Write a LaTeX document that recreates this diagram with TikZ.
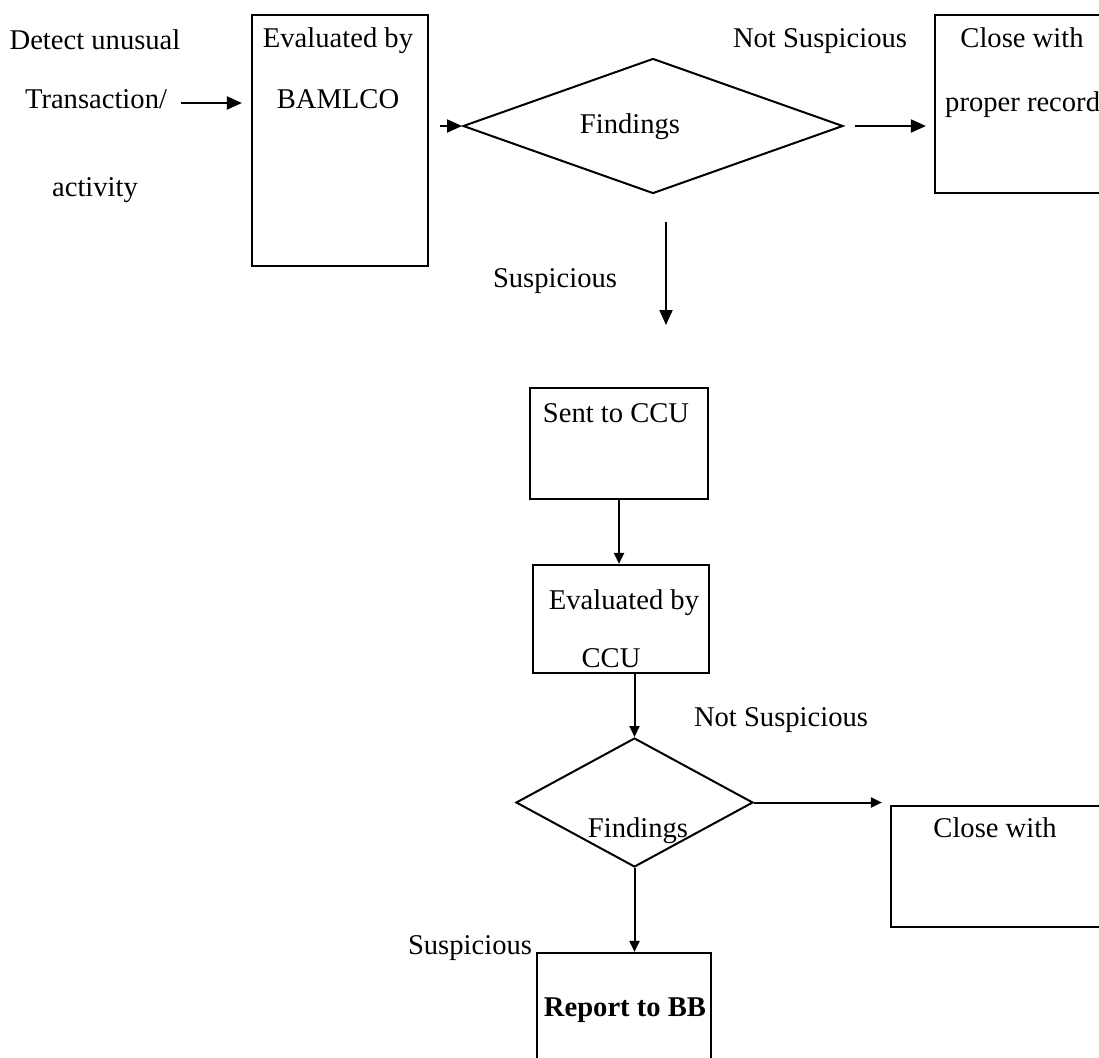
\documentclass[tikz,border=0pt]{standalone}
\usepackage{fontspec}
\setmainfont{Liberation Serif}
\usepackage{tikz}
\usetikzlibrary{shapes.geometric,arrows.meta}

\begin{document}
\begin{tikzpicture}[x=1pt,y=-1pt,
  every node/.style={font=\fontsize{28.6}{34}\selectfont},
  txt/.style={inner sep=0pt,text height=0.7em,text depth=0.25em},
  box/.style={draw,line width=2.2pt,inner sep=0pt},
  decide/.style={diamond,draw,line width=2pt,inner sep=0pt},
  arr/.style={line width=2pt,-{Triangle[length=15pt,width=13pt]}},
  arrs/.style={line width=2pt,-{Triangle[length=11pt,width=10pt]}}]
\clip (0,0) rectangle (1099,1057);
\node [box,minimum width=176pt,minimum height=251pt] (bamlco) at (340,140.5) {};
\node [decide,minimum width=380pt,minimum height=135pt] (findA) at (653,126) {};
\node [box,minimum width=185pt,minimum height=178pt] (closeA) at (1027.5,104) {};
\node [box,minimum width=178pt,minimum height=111pt] (sent) at (619,443.5) {};
\node [box,minimum width=176pt,minimum height=108pt] (evalB) at (621,619) {};
\node [decide,minimum width=237pt,minimum height=129pt] (findB) at (634.5,802.5) {};
\node [box,minimum width=229pt,minimum height=121pt] (closeB) at (1005.5,866.5) {};
\node [box,minimum width=174pt,minimum height=127pt] (report) at (624,1016.5) {};

\node [txt] (detect) at (95,47) {Detect unusual};
\node [txt] (trans) at (96,106) {Transaction/};
\node [txt] (activ) at (95,194) {activity};
\node [txt] (evalA1) at (338,45) {Evaluated by};
\node [txt] (evalA2) at (338,106) {BAMLCO};
\node [txt] (findAt) at (630,131) {Findings};
\node [txt] (notA) at (820,45) {Not Suspicious};
\node [txt] (closeA1) at (1022,45) {Close with};
\node [txt,anchor=west] (closeA2) at (945,109) {proper record};
\node [txt] (suspA) at (555,285) {Suspicious};
\node [txt] (sentt) at (616,420) {Sent to CCU};
\node [txt] (evalB1) at (624,607) {Evaluated by};
\node [txt] (evalB2) at (611,665) {CCU};
\node [txt] (notB) at (781,724) {Not Suspicious};
\node [txt] (findBt) at (638,835) {Findings};
\node [txt] (closeB1) at (995,835) {Close with};
\node [txt] (suspB) at (470,952) {Suspicious};
\node [txt,font=\fontsize{28.6}{34}\selectfont\bfseries] (reportt) at (625,1014) {Report to BB};

\coordinate (downA) at (666,222);
\coordinate (downB) at (666,325);

\draw [arr,shorten <=14pt,shorten >=9pt] ([yshift=3pt]trans.east) -- ([yshift=3pt]trans.east -| bamlco.west);
\draw [arr,shorten <=11pt] (findA.west -| bamlco.east) -- (findA.west);
\draw [arr,shorten <=11pt,shorten >=8pt] (findA.east) -- (findA.east -| closeA.west);
\draw [arr] (downA) -- (downB);
\draw [arrs] (sent.south) -- (sent.south |- evalB.north);
\draw [arrs] (findB.north |- evalB.south) -- (findB.north);
\draw [arrs,shorten >=8pt] (findB.east) -- (findB.east -| closeB.west);
\draw [arrs] (findB.south) -- (findB.south |- report.north);
\end{tikzpicture}
\end{document}
